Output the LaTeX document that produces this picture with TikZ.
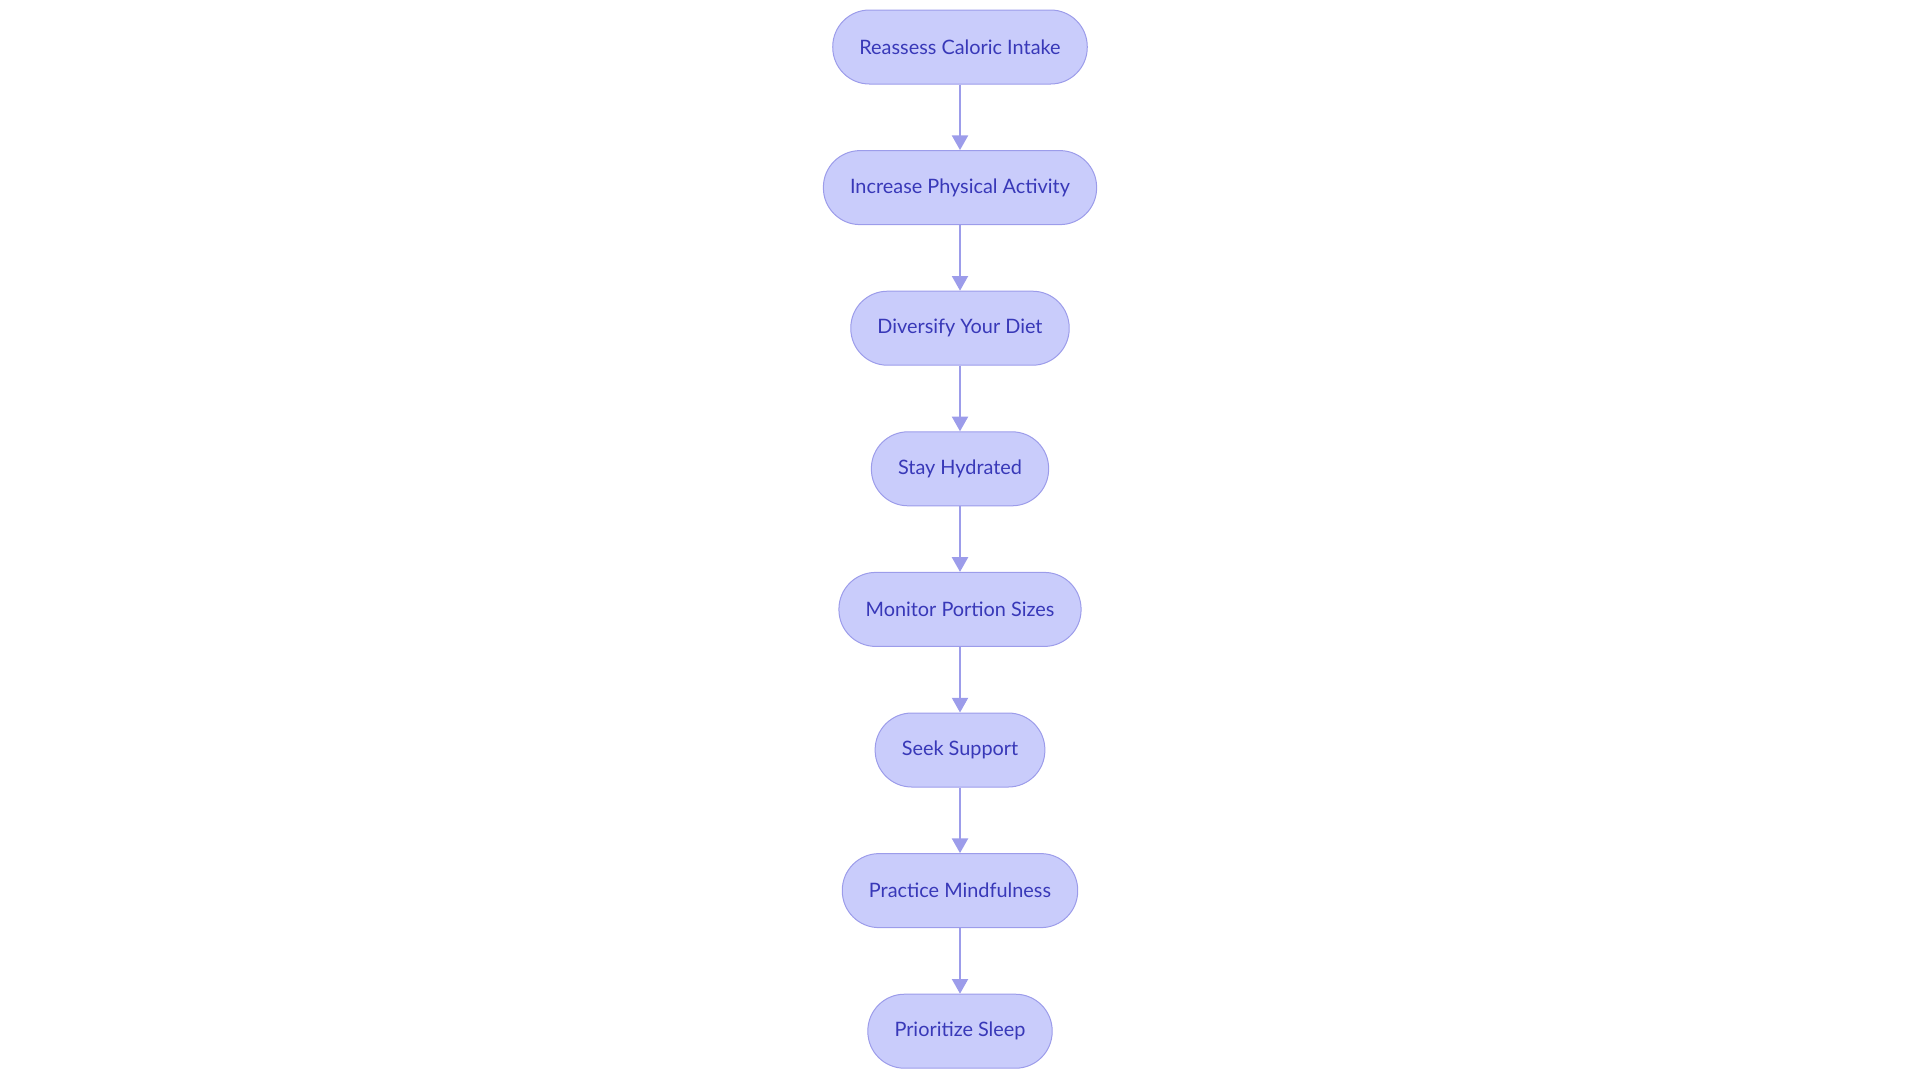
\documentclass[tikz,border=0pt]{standalone}
\usepackage{fontspec}
\setmainfont{Lato}
\usetikzlibrary{arrows.meta,positioning}
\definecolor{stepfill}{HTML}{C9CCFB}
\definecolor{stepline}{HTML}{9C9CEA}
\definecolor{steptext}{HTML}{3838B8}
\tikzset{
	stepbox/.style={
			rectangle, rounded corners=27.5pt, draw=stepline, line width=0.75pt,
			fill=stepfill, text=steptext, minimum height=55.5pt, inner xsep=20pt,
			font=\fontsize{14.9}{17}\selectfont
		},
	flow/.style={-{Triangle[width=12pt,length=11pt]}, draw=stepline, line width=1.5pt}
}

\begin{document}
\begin{tikzpicture}[x=0.75pt,y=-0.75pt,node distance=49.2pt]
		%--- Canvas ---
		\useasboundingbox (0,0) rectangle (1920,1083);

		%--- Steps ---
		\node[stepbox] (reassess) at (960,47) {Reassess Caloric Intake};
		\node[stepbox, below=of reassess] (activity) {Increase Physical Activity};
		\node[stepbox, below=of activity] (diet) {Diversify Your Diet};
		\node[stepbox, below=of diet] (hydrated) {Stay Hydrated};
		\node[stepbox, below=of hydrated] (portion) {Monitor Portion Sizes};
		\node[stepbox, below=of portion] (support) {Seek Support};
		\node[stepbox, below=of support] (mindful) {Practice Mindfulness};
		\node[stepbox, below=of mindful] (sleep) {Prioritize Sleep};

		%--- Arrows ---
		\draw[flow] (reassess) -- (activity);
		\draw[flow] (activity) -- (diet);
		\draw[flow] (diet) -- (hydrated);
		\draw[flow] (hydrated) -- (portion);
		\draw[flow] (portion) -- (support);
		\draw[flow] (support) -- (mindful);
		\draw[flow] (mindful) -- (sleep);
	\end{tikzpicture}
\end{document}
